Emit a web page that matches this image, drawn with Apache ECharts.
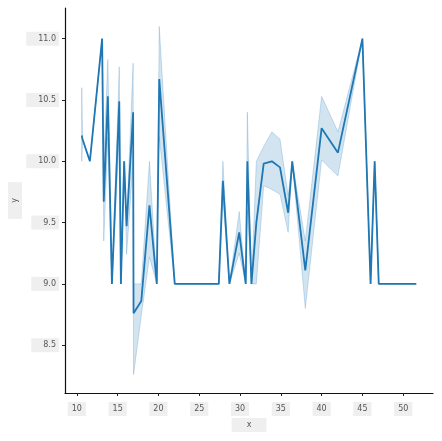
<!DOCTYPE html>
<html>
<head>
<meta charset="utf-8">
<script src="https://cdn.jsdelivr.net/npm/echarts@6/dist/echarts.min.js"></script>
<style>html,body{margin:0;padding:0;background:#fff}#c{width:442px;height:441px}</style>
</head>
<body>
<div id="c"></div>
<script>
// data
const xs  = [10.6, 10.7, 11.6, 13.1, 13.3, 13.8, 14.3, 15.2, 15.4, 15.8, 16.1, 16.9, 16.95, 17.9, 18.9, 19.8, 20.1, 22.0, 27.4, 27.9, 28.7, 29.9, 30.7, 30.9, 31.4, 32.0, 32.9, 33.9, 34.9, 35.9, 36.4, 38.0, 40.0, 42.0, 45.0, 46.0, 46.5, 47.0, 51.6];
const ys  = [10.21, 10.18, 10.0, 11.0, 9.67, 10.53, 9.0, 10.49, 9.0, 10.0, 9.47, 10.40, 8.76, 8.86, 9.64, 9.0, 10.67, 9.0, 9.0, 9.84, 9.0, 9.42, 9.0, 10.0, 9.0, 9.5, 9.98, 10.0, 9.95, 9.58, 10.0, 9.11, 10.27, 10.07, 11.0, 9.0, 10.0, 9.0, 9.0];
const lo  = [10.0, 10.18, 10.0, 11.0, 9.35, 10.2, 9.0, 10.2, 9.0, 10.0, 9.24, 10.0, 8.26, 8.74, 9.22, 9.0, 10.2, 9.0, 9.0, 9.7, 9.0, 9.25, 9.0, 9.6, 9.0, 9.0, 9.8, 9.77, 9.73, 9.42, 10.0, 8.8, 10.01, 9.88, 11.0, 9.0, 10.0, 9.0, 9.0];
const hi  = [10.6, 10.18, 10.0, 11.0, 10.0, 10.83, 9.0, 10.77, 9.0, 10.0, 9.5, 10.8, 9.0, 9.0, 10.0, 9.0, 11.1, 9.0, 9.0, 10.0, 9.0, 9.59, 9.0, 10.4, 9.0, 10.0, 10.12, 10.24, 10.18, 9.72, 10.0, 9.35, 10.53, 10.24, 11.0, 9.0, 10.0, 9.0, 9.0];
const xTicks = [10, 15, 20, 25, 30, 35, 40, 45, 50];
const yTicks = [8.5, 9.0, 9.5, 10.0, 10.5, 11.0];

const chart = echarts.init(document.getElementById('c'));
const lineData = xs.map((x, i) => [x, ys[i]]);
const labelBox = {
  color: '#555', fontSize: 8, fontFamily: 'DejaVu Sans',
  backgroundColor: '#efefef'
};
chart.setOption({
  animation: false,
  grid: { left: 65, right: 9, top: 8, bottom: 48, containLabel: false, outerBoundsMode: 'none' },
  xAxis: {
    type: 'value', min: 8.55, max: 53.65,
    name: 'x', nameLocation: 'middle', nameGap: 25, nameMoveOverlap: false,
    nameTextStyle: { color: '#555', fontSize: 8, fontFamily: 'DejaVu Sans', backgroundColor: '#efefef', padding: [3, 15] },
    splitLine: { show: false },
    axisLine: { show: true, onZero: false, lineStyle: { color: '#111', width: 1.2 } },
    axisTick: { show: true, length: 3, customValues: xTicks, lineStyle: { color: '#222' } },
    axisLabel: Object.assign({ customValues: xTicks, margin: 9, padding: [3, 4], formatter: v => String(v) }, labelBox)
  },
  yAxis: {
    type: 'value', min: 8.11, max: 11.25,
    name: 'y', nameLocation: 'middle', nameGap: 43, nameRotate: 90, nameMoveOverlap: false,
    nameTextStyle: { color: '#555', fontSize: 8, fontFamily: 'DejaVu Sans', backgroundColor: '#efefef', padding: [3, 16] },
    splitLine: { show: false },
    axisLine: { show: true, onZero: false, lineStyle: { color: '#111', width: 1.2 } },
    axisTick: { show: true, length: 3, customValues: yTicks, lineStyle: { color: '#222' } },
    axisLabel: Object.assign({ customValues: yTicks, margin: 6, padding: [3, 3, 3, 12], formatter: v => v.toFixed(1) }, labelBox)
  },
  series: [
    {
      type: 'custom',
      coordinateSystem: 'cartesian2d',
      data: [[xs[0], ys[0]]],
      clip: true,
      silent: true,
      renderItem: function (params, api) {
        const pts = [];
        for (let i = 0; i < xs.length; i++) pts.push(api.coord([xs[i], hi[i]]));
        for (let i = xs.length - 1; i >= 0; i--) pts.push(api.coord([xs[i], lo[i]]));
        return {
          type: 'polygon',
          shape: { points: pts },
          style: { fill: 'rgba(31,119,180,0.2)', stroke: 'rgba(31,119,180,0.22)', lineWidth: 1 }
        };
      },
      z: 1
    },
    {
      type: 'line',
      data: lineData,
      showSymbol: false,
      symbol: 'none',
      lineStyle: { color: '#1f77b4', width: 1.8 },
      z: 2
    }
  ]
});
</script>
</body>
</html>
